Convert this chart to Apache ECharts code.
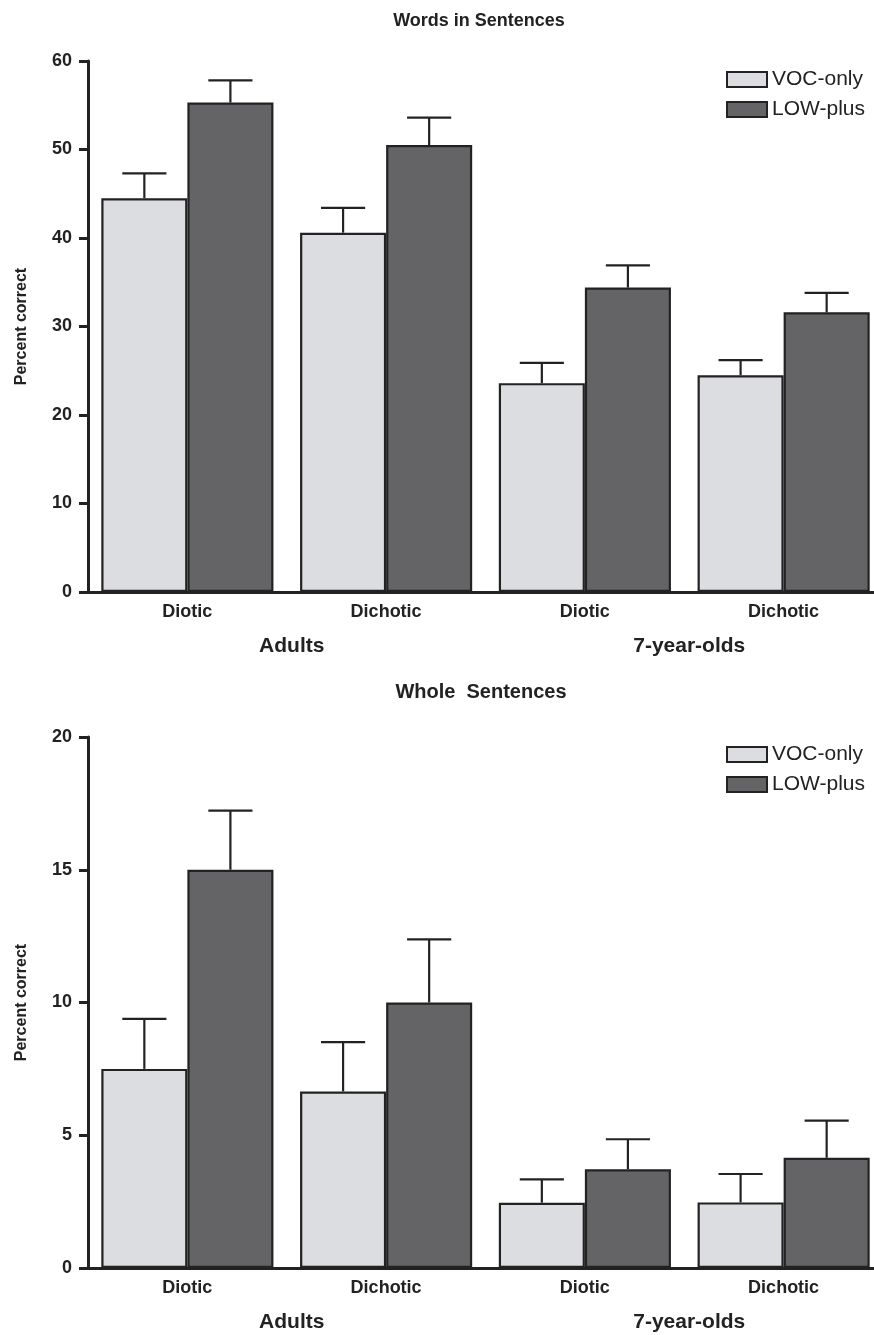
<!DOCTYPE html>
<html>
<head>
<meta charset="utf-8">
<script src="https://cdn.jsdelivr.net/npm/echarts@6/dist/echarts.min.js"></script>
<style>html,body{margin:0;padding:0;background:#fff}#c{width:874px;height:1335px}</style>
</head>
<body>
<div id="c"></div>
<script>
// ---- data ----
const categories = ['Diotic', 'Dichotic', 'Diotic', 'Dichotic'];
const groups = ['Adults', '7-year-olds'];
const seriesNames = ['VOC-only', 'LOW-plus'];

const wordsVOC = [44.5, 40.6, 23.6, 24.5];
const wordsVOCErr = [47.3, 43.4, 25.9, 26.2];
const wordsLOW = [55.3, 50.5, 34.4, 31.6];
const wordsLOWErr = [57.8, 53.6, 36.9, 33.8];

const wholeVOC = [7.5, 6.65, 2.46, 2.47];
const wholeVOCErr = [9.38, 8.51, 3.34, 3.54];
const wholeLOW = [15.0, 10.0, 3.72, 4.15];
const wholeLOWErr = [17.23, 12.38, 4.85, 5.55];

const wordsTicks = {min: 0, max: 60, interval: 10};
const wholeTicks = {min: 0, max: 20, interval: 5};

// ---- styling ----
const FONT = "'Liberation Sans', Arial, Helvetica, sans-serif";
const INK = '#222222';
const VOC_COLOR = '#dcdde0';
const LOW_COLOR = '#646466';
const BAR_FRAC = 0.433;
const CAP_FRAC = 0.111;

function errRows(means, uppers, side) {
  return means.map((m, i) => [i, m, uppers[i], side]);
}

function errorSeries(name, xi, yi, rows) {
  return {
    type: 'custom', name: name, xAxisIndex: xi, yAxisIndex: yi, z: 10,
    silent: true,
    data: rows,
    renderItem: function (params, api) {
      const cat = api.value(0), mean = api.value(1), hi = api.value(2), side = api.value(3);
      const band = api.size([1, 0])[0];
      const b = api.coord([cat, mean]);
      const t = api.coord([cat, hi]);
      const x = b[0] + side * band * BAR_FRAC / 2;
      const hw = band * CAP_FRAC;
      const st = {stroke: INK, lineWidth: 2.2};
      return {
        type: 'group',
        children: [
          {type: 'line', shape: {x1: x, y1: b[1], x2: x, y2: t[1]}, style: st},
          {type: 'line', shape: {x1: x - hw, y1: t[1], x2: x + hw, y2: t[1]}, style: st}
        ]
      };
    }
  };
}

function barSeries(name, color, xi, yi, data) {
  return {
    type: 'bar', name: name, xAxisIndex: xi, yAxisIndex: yi,
    data: data, barWidth: (BAR_FRAC * 100) + '%', barGap: '0%',
    itemStyle: {color: color, borderColor: INK, borderWidth: 2.2},
    silent: true
  };
}

function xAxes(gridIndex) {
  return [
    {
      type: 'category', gridIndex: gridIndex, data: categories, position: 'bottom',
      axisLine: {lineStyle: {color: INK, width: 3}},
      axisTick: {alignWithLabel: true, length: 8, lineStyle: {color: INK, width: 3}},
      axisLabel: {color: INK, fontFamily: FONT, fontWeight: 'bold', fontSize: 18, margin: 11}
    },
    {
      type: 'category', gridIndex: gridIndex, data: groups, position: 'bottom', offset: 34,
      axisLine: {show: false}, axisTick: {show: false},
      axisLabel: {color: INK, fontFamily: FONT, fontWeight: 'bold', fontSize: 21, margin: 10,
                  padding: [0, 0, 0, 10]}
    }
  ];
}

function yAxis(gridIndex, ticks) {
  return {
    type: 'value', gridIndex: gridIndex, min: ticks.min, max: ticks.max, interval: ticks.interval,
    name: 'Percent correct', nameLocation: 'middle', nameGap: 58,
    nameTextStyle: {color: INK, fontFamily: FONT, fontWeight: 'bold', fontSize: 16},
    axisLine: {show: true, lineStyle: {color: INK, width: 3}},
    axisTick: {show: true, length: 9, lineStyle: {color: INK, width: 3}},
    axisLabel: {color: INK, fontFamily: FONT, fontWeight: 'bold', fontSize: 18, margin: 16},
    splitLine: {show: false}
  };
}

function legend(top) {
  return {
    data: seriesNames, orient: 'vertical', left: 726, top: top, padding: 0,
    itemWidth: 40, itemHeight: 15, itemGap: 9, icon: 'rect',
    textStyle: {color: INK, fontFamily: FONT, fontSize: 21, padding: [0, 0, 0, 0]},
    selectedMode: false
  };
}

const option = {
  animation: false,
  backgroundColor: '#ffffff',
  title: [
    {text: 'Words in Sentences', left: 479, top: 12, padding: 0, textAlign: 'center',
     textStyle: {color: INK, fontFamily: FONT, fontWeight: 'bold', fontSize: 18}},
    {text: 'Whole  Sentences', left: 481, top: 682, padding: 0, textAlign: 'center',
     textStyle: {color: INK, fontFamily: FONT, fontWeight: 'bold', fontSize: 20}}
  ],
  legend: [legend(69), legend(744)],
  grid: [
    {left: 88, top: 61, width: 795, height: 531, outerBoundsMode: 'none'},
    {left: 88, top: 737, width: 795, height: 531, outerBoundsMode: 'none'}
  ],
  xAxis: [].concat(xAxes(0), xAxes(1)),
  yAxis: [yAxis(0, wordsTicks), yAxis(1, wholeTicks)],
  series: [
    barSeries(seriesNames[0], VOC_COLOR, 0, 0, wordsVOC),
    barSeries(seriesNames[1], LOW_COLOR, 0, 0, wordsLOW),
    errorSeries('err-words-voc', 0, 0, errRows(wordsVOC, wordsVOCErr, -1)),
    errorSeries('err-words-low', 0, 0, errRows(wordsLOW, wordsLOWErr, 1)),
    barSeries(seriesNames[0], VOC_COLOR, 2, 1, wholeVOC),
    barSeries(seriesNames[1], LOW_COLOR, 2, 1, wholeLOW),
    errorSeries('err-whole-voc', 2, 1, errRows(wholeVOC, wholeVOCErr, -1)),
    errorSeries('err-whole-low', 2, 1, errRows(wholeLOW, wholeLOWErr, 1))
  ]
};

const chart = echarts.init(document.getElementById('c'), null, {renderer: 'canvas'});
chart.setOption(option);
</script>
</body>
</html>
